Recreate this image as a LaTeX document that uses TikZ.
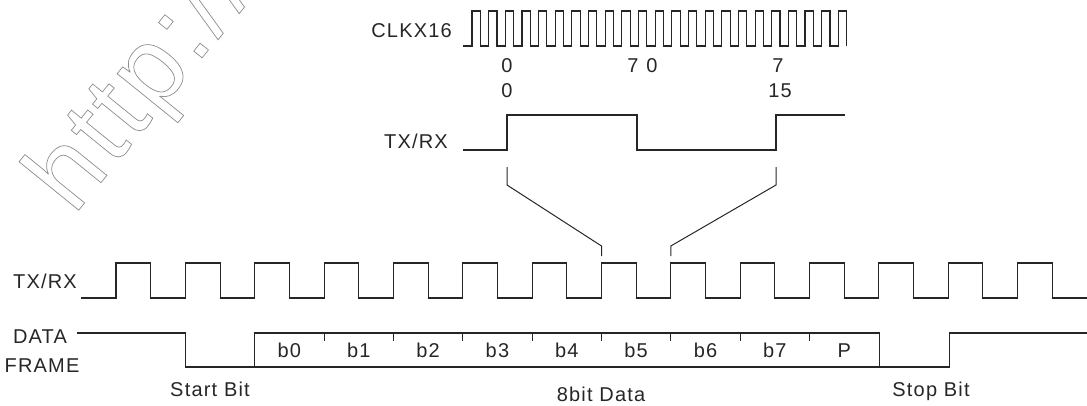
\documentclass[tikz,border=0pt]{standalone}
\usepackage{fontspec}
\setmainfont{Liberation Sans}[LetterSpace=6]
\newfontfamily\markfont{Liberation Sans}[LetterSpace=4]
\usetikzlibrary{calc}

\tikzset{
  wave/.style={line width=1.1pt, draw=black!85, line join=miter},
  guide/.style={line width=1pt, draw=black!85},
  lbl/.style={font=\fontsize{20}{23}\selectfont, inner sep=0pt, anchor=base, text=black!85},
  lble/.style={lbl, anchor=base east},
}

\begin{document}
\begin{tikzpicture}[x=1pt, y=-1pt]
\useasboundingbox (0,0) rectangle (1087,405);

% faint outlined web address in the corner
\begin{scope}
  \clip (0,0) rectangle (1087,405);
  \node[rotate=51, anchor=base west, inner sep=0pt, text=black!45,
        font=\markfont\fontsize{106}{110}\selectfont] (mark) at (74,216)
    {\special{pdf:code 1 Tr 0.7 w}http://\special{pdf:code 0 Tr}};
\end{scope}

% ---------- CLKX16 (16x oversampling clock) ----------
\node[lble] (clklbl) at (452,37) {CLKX16};
\draw[wave] (463,46)
  \foreach \k in {0,...,22} {
    -- ({472+16.65*\k},46) -- ({472+16.65*\k},11)
    -- ({480.3+16.65*\k},11) -- ({480.3+16.65*\k},46)
  };

% sample counters
\node[lbl] (c0a)  at (507,72) {0};
\node[lbl] (c7a)  at (633,72) {7};
\node[lbl] (c0b)  at (652,72) {0};
\node[lbl] (c7b)  at (778,72) {7};
\node[lbl] (c0c)  at (507,97) {0};
\node[lbl] (c15)  at (780,97) {15};

% ---------- expanded TX/RX bit ----------
\node[lble] (txtop) at (448,148) {TX/RX};
\draw[wave] (463,150) -- (507,150) -- (507,115) -- (637,115) -- (637,150)
  -- (776,150) -- (776,115) -- (845,115);

% zoom bracket onto one bit of the serial line
\coordinate (zl) at (507,167);
\coordinate (zr) at (776,167);
\coordinate (bl) at (601.5,256);
\coordinate (br) at (670.8,256);
\draw[guide] (zl) -- ++(0,18) -- ($(bl)+(0,-10)$) -- (bl);
\draw[guide] (zr) -- ++(0,18) -- ($(br)+(0,-10)$) -- (br);

% ---------- serial TX/RX clock ----------
\node[lble] (txbot) at (77,288) {TX/RX};
\draw[wave] (81,298)
  \foreach \k in {0,...,13} {
    -- ({116+69.35*\k},298) -- ({116+69.35*\k},263)
    -- ({150.7+69.35*\k},263) -- ({150.7+69.35*\k},298)
  } -- (1087,298);

% ---------- data frame ----------
\node[lbl] (datalbl)  at (40,343) {DATA};
\node[lbl] (framelbl) at (42,372) {FRAME};
\draw[wave] (77,333) -- (185.4,333) -- (185.4,367) -- (949.2,367)
  -- (949.2,333) -- (1087,333);
\draw[wave] (254.7,367) -- (254.7,333) -- (879.9,333) -- (879.9,367);
\foreach \k in {3,...,10}
  \draw[wave] ({116+69.35*\k},333) -- ++(0,8);

\foreach \t [count=\i from 2] in {b0,b1,b2,b3,b4,b5,b6,b7,P}
  \node[lbl] (cell\i) at ({116+69.35*(\i+0.5)},357) {\t};

\node[lbl] (startlbl) at (210,396) {Start Bit};
\node[lbl] (datatxt)  at (601,401) {8bit Data};
\node[lbl] (stoplbl)  at (931,396) {Stop Bit};
\end{tikzpicture}
\end{document}
